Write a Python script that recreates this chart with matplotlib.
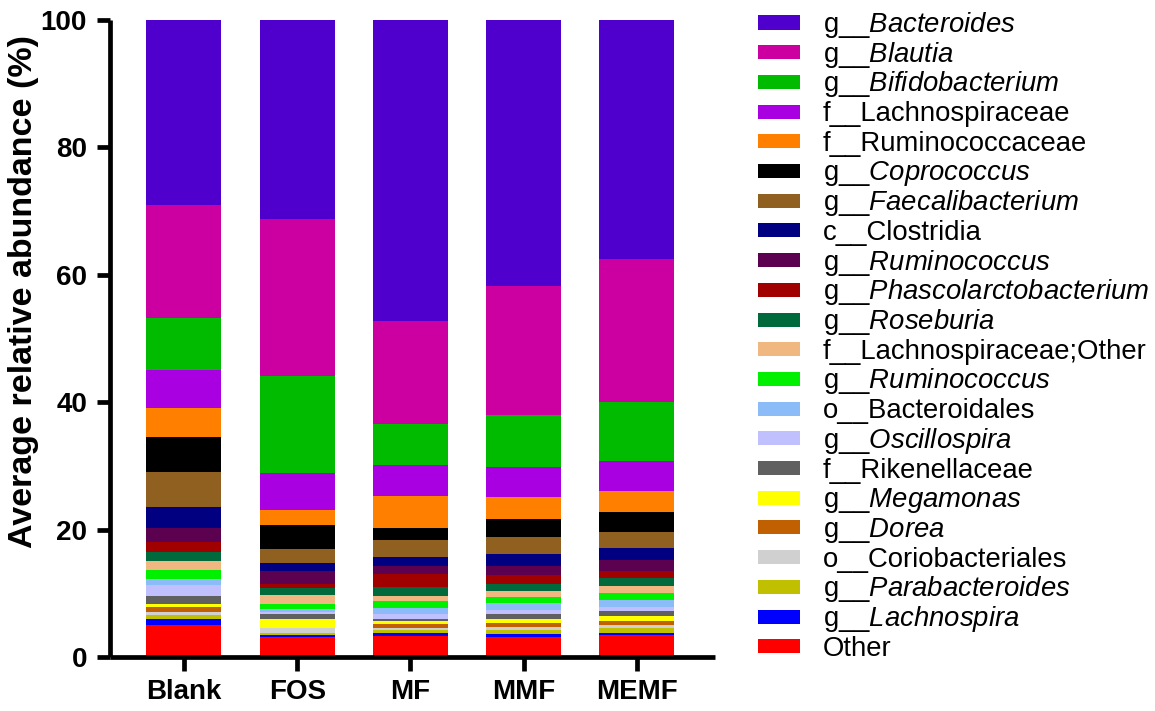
import matplotlib
matplotlib.use("Agg")
import matplotlib.pyplot as plt
from matplotlib.patches import Rectangle
import numpy as np

plt.rcParams['font.family'] = ['Liberation Sans', 'DejaVu Sans']
plt.rcParams['mathtext.fontset'] = 'custom'
plt.rcParams['mathtext.rm'] = 'Liberation Sans'
plt.rcParams['mathtext.it'] = 'Liberation Sans:italic'

groups = ["Blank", "FOS", "MF", "MMF", "MEMF"]

# taxa in legend order (top of legend first = top of stack)
taxa = [
    r"g__$\mathit{Bacteroides}$",
    r"g__$\mathit{Blautia}$",
    r"g__$\mathit{Bifidobacterium}$",
    "f__Lachnospiraceae",
    "f__Ruminococcaceae",
    r"g__$\mathit{Coprococcus}$",
    r"g__$\mathit{Faecalibacterium}$",
    "c__Clostridia",
    r"g__$\mathit{Ruminococcus}$",
    r"g__$\mathit{Phascolarctobacterium}$",
    r"g__$\mathit{Roseburia}$",
    "f__Lachnospiraceae;Other",
    r"g__$\mathit{Ruminococcus}$",
    "o__Bacteroidales",
    r"g__$\mathit{Oscillospira}$",
    "f__Rikenellaceae",
    r"g__$\mathit{Megamonas}$",
    r"g__$\mathit{Dorea}$",
    "o__Coriobacteriales",
    r"g__$\mathit{Parabacteroides}$",
    r"g__$\mathit{Lachnospira}$",
    "Other",
]

colors = [
    "#5000CC", "#CC00A0", "#00BB00", "#A800E0", "#FF8000", "#000000",
    "#8F6020", "#000080", "#5C0050", "#A00000", "#006A3C", "#F0B880",
    "#00F000", "#8CBCF8", "#C0C0FF", "#606060", "#FFFF00", "#C06000",
    "#D0D0D0", "#C0C000", "#0000FF", "#FF0000",
]

# values (%) in legend order
blank = [29.1, 17.7, 8.2, 5.9, 4.6, 5.5, 5.5, 3.2, 2.3, 1.5, 1.5, 1.3, 1.5, 0.9, 1.7, 1.3, 0.5, 0.8, 0.4, 0.7, 0.9, 5.0]
fos   = [31.2, 24.7, 15.2, 5.8, 2.3, 3.8, 2.3, 1.2, 2.1, 0.5, 1.1, 1.5, 0.7, 0.6, 0.3, 0.7, 1.4, 0.1, 0.8, 0.3, 0.3, 3.1]
mf    = [47.2, 16.3, 6.4, 4.8, 5.1, 1.9, 2.6, 1.4, 1.3, 2.0, 1.4, 0.8, 1.1, 0.9, 0.8, 0.4, 0.4, 0.6, 0.4, 0.4, 0.5, 3.3]
mmf   = [41.7, 20.3, 8.1, 4.8, 3.5, 2.8, 2.7, 1.8, 1.5, 1.3, 1.1, 1.0, 1.0, 1.1, 0.6, 0.7, 0.6, 0.7, 0.4, 0.7, 0.5, 3.1]
memf  = [37.5, 22.5, 9.3, 4.7, 3.2, 3.1, 2.6, 1.9, 1.7, 1.1, 1.2, 1.1, 1.1, 1.1, 0.7, 0.8, 0.8, 0.6, 0.4, 0.8, 0.4, 3.4]

data = np.array([blank, fos, mf, mmf, memf]).T  # taxa x groups

fig = plt.figure(figsize=(11.55, 7.11), dpi=100)
ax = fig.add_axes([110/1155, 1-657/711, (715-110)/1155, (657-20)/711])

x = np.arange(len(groups))
bottom = np.zeros(len(groups))
n = len(taxa)
for i in range(n - 1, -1, -1):
    ax.bar(x, data[i], width=0.662, bottom=bottom, color=colors[i], linewidth=0)
    bottom += data[i]

ax.set_xlim(-0.653, 4.689)
ax.set_ylim(0, 100)
ax.set_yticks([0, 20, 40, 60, 80, 100])
ax.set_xticks(x)
ax.set_xticklabels(groups)
for s in ["top", "right"]:
    ax.spines[s].set_visible(False)
for s in ["left", "bottom"]:
    ax.spines[s].set_linewidth(3.4)
    ax.spines[s].set_capstyle('butt')
ax.tick_params(axis='y', length=9.5, width=3.4, labelsize=20, pad=7)
ax.tick_params(axis='x', length=10, width=3.4, labelsize=20, pad=6)
for lab in ax.get_xticklabels() + ax.get_yticklabels():
    lab.set_fontweight('bold')

fig.text(24/1155, 1-292/711, "Average relative abundance (%)", rotation=90,
         ha='center', va='center', fontsize=24.5, fontweight='bold')

# legend
for i in range(n):
    cy = 22.5 + i * 29.7
    fig.add_artist(Rectangle((758/1155, 1-(cy+7)/711), 42/1155, 14/711,
                             transform=fig.transFigure, facecolor=colors[i],
                             edgecolor='none'))
    fig.text(823/1155, 1-(cy+9.5)/711, taxa[i], fontsize=19.8, va='baseline', ha='left')

fig.savefig("out.png", dpi=100)
